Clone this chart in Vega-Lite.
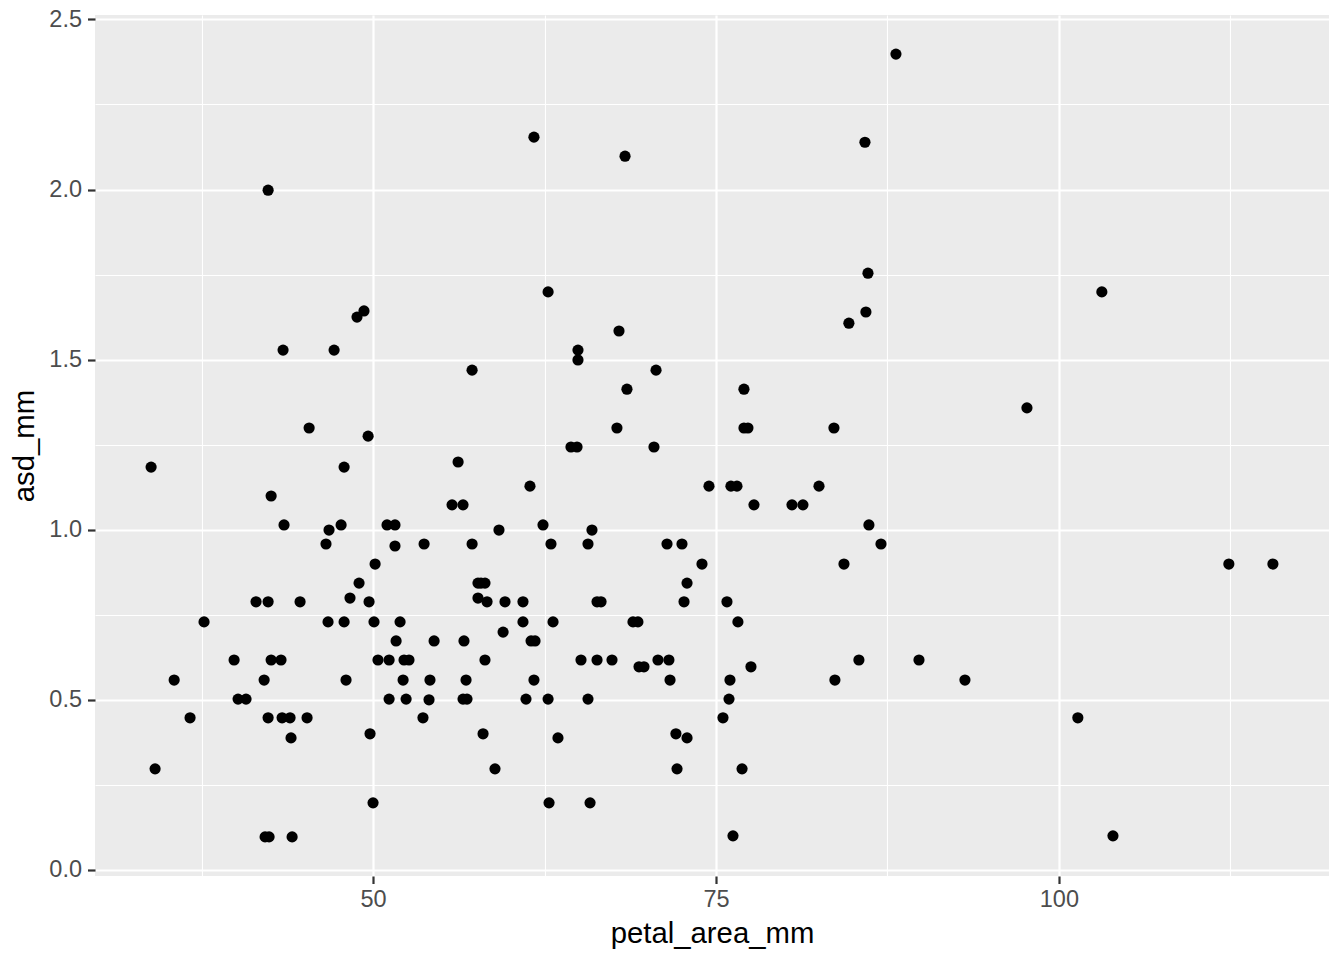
{
  "$schema": "https://vega.github.io/schema/vega-lite/v6.json",
  "autosize": "none",
  "padding": {"left": 95, "top": 15, "right": 15, "bottom": 84},
  "width": 1234,
  "height": 861,
  "background": "white",
  "view": {"fill": "#EBEBEB", "stroke": null},
  "config": {"font": "Liberation Sans"},
  "data": {"values": [
    {"petal_area_mm": 88.12, "asd_mm": 2.398},
    {"petal_area_mm": 61.73, "asd_mm": 2.154},
    {"petal_area_mm": 68.37, "asd_mm": 2.098},
    {"petal_area_mm": 85.86, "asd_mm": 2.139},
    {"petal_area_mm": 42.35, "asd_mm": 1.998},
    {"petal_area_mm": 86.08, "asd_mm": 1.754},
    {"petal_area_mm": 103.13, "asd_mm": 1.699},
    {"petal_area_mm": 62.76, "asd_mm": 1.699},
    {"petal_area_mm": 48.83, "asd_mm": 1.625},
    {"petal_area_mm": 49.34, "asd_mm": 1.643},
    {"petal_area_mm": 84.69, "asd_mm": 1.607},
    {"petal_area_mm": 85.93, "asd_mm": 1.64},
    {"petal_area_mm": 67.93, "asd_mm": 1.584},
    {"petal_area_mm": 43.44, "asd_mm": 1.528},
    {"petal_area_mm": 47.16, "asd_mm": 1.528},
    {"petal_area_mm": 64.94, "asd_mm": 1.528},
    {"petal_area_mm": 64.94, "asd_mm": 1.499},
    {"petal_area_mm": 57.22, "asd_mm": 1.469},
    {"petal_area_mm": 70.63, "asd_mm": 1.469},
    {"petal_area_mm": 68.51, "asd_mm": 1.413},
    {"petal_area_mm": 77.04, "asd_mm": 1.413},
    {"petal_area_mm": 97.67, "asd_mm": 1.358},
    {"petal_area_mm": 45.34, "asd_mm": 1.299},
    {"petal_area_mm": 67.78, "asd_mm": 1.299},
    {"petal_area_mm": 77.04, "asd_mm": 1.299},
    {"petal_area_mm": 77.33, "asd_mm": 1.299},
    {"petal_area_mm": 83.6, "asd_mm": 1.299},
    {"petal_area_mm": 49.64, "asd_mm": 1.275},
    {"petal_area_mm": 33.82, "asd_mm": 1.184},
    {"petal_area_mm": 47.89, "asd_mm": 1.184},
    {"petal_area_mm": 56.2, "asd_mm": 1.199},
    {"petal_area_mm": 64.43, "asd_mm": 1.243},
    {"petal_area_mm": 64.87, "asd_mm": 1.243},
    {"petal_area_mm": 70.48, "asd_mm": 1.243},
    {"petal_area_mm": 61.44, "asd_mm": 1.128},
    {"petal_area_mm": 74.49, "asd_mm": 1.128},
    {"petal_area_mm": 76.09, "asd_mm": 1.128},
    {"petal_area_mm": 76.53, "asd_mm": 1.128},
    {"petal_area_mm": 82.51, "asd_mm": 1.128},
    {"petal_area_mm": 42.57, "asd_mm": 1.099},
    {"petal_area_mm": 55.76, "asd_mm": 1.073},
    {"petal_area_mm": 56.56, "asd_mm": 1.073},
    {"petal_area_mm": 77.77, "asd_mm": 1.073},
    {"petal_area_mm": 80.54, "asd_mm": 1.073},
    {"petal_area_mm": 81.34, "asd_mm": 1.073},
    {"petal_area_mm": 46.79, "asd_mm": 0.999},
    {"petal_area_mm": 47.67, "asd_mm": 1.014},
    {"petal_area_mm": 43.51, "asd_mm": 1.014},
    {"petal_area_mm": 51.02, "asd_mm": 1.014},
    {"petal_area_mm": 51.6, "asd_mm": 1.014},
    {"petal_area_mm": 62.39, "asd_mm": 1.014},
    {"petal_area_mm": 59.18, "asd_mm": 0.999},
    {"petal_area_mm": 65.96, "asd_mm": 0.999},
    {"petal_area_mm": 86.15, "asd_mm": 1.014},
    {"petal_area_mm": 46.57, "asd_mm": 0.958},
    {"petal_area_mm": 51.6, "asd_mm": 0.952},
    {"petal_area_mm": 53.72, "asd_mm": 0.958},
    {"petal_area_mm": 57.22, "asd_mm": 0.958},
    {"petal_area_mm": 62.97, "asd_mm": 0.958},
    {"petal_area_mm": 65.67, "asd_mm": 0.958},
    {"petal_area_mm": 71.43, "asd_mm": 0.958},
    {"petal_area_mm": 72.52, "asd_mm": 0.958},
    {"petal_area_mm": 87.03, "asd_mm": 0.958},
    {"petal_area_mm": 50.15, "asd_mm": 0.899},
    {"petal_area_mm": 73.98, "asd_mm": 0.899},
    {"petal_area_mm": 84.33, "asd_mm": 0.899},
    {"petal_area_mm": 112.39, "asd_mm": 0.899},
    {"petal_area_mm": 115.6, "asd_mm": 0.899},
    {"petal_area_mm": 48.98, "asd_mm": 0.843},
    {"petal_area_mm": 57.65, "asd_mm": 0.843},
    {"petal_area_mm": 57.87, "asd_mm": 0.843},
    {"petal_area_mm": 58.16, "asd_mm": 0.843},
    {"petal_area_mm": 72.89, "asd_mm": 0.843},
    {"petal_area_mm": 48.32, "asd_mm": 0.799},
    {"petal_area_mm": 57.65, "asd_mm": 0.799},
    {"petal_area_mm": 41.47, "asd_mm": 0.788},
    {"petal_area_mm": 42.35, "asd_mm": 0.788},
    {"petal_area_mm": 44.68, "asd_mm": 0.788},
    {"petal_area_mm": 49.71, "asd_mm": 0.788},
    {"petal_area_mm": 58.31, "asd_mm": 0.788},
    {"petal_area_mm": 59.62, "asd_mm": 0.788},
    {"petal_area_mm": 60.93, "asd_mm": 0.788},
    {"petal_area_mm": 66.33, "asd_mm": 0.788},
    {"petal_area_mm": 66.62, "asd_mm": 0.788},
    {"petal_area_mm": 72.67, "asd_mm": 0.788},
    {"petal_area_mm": 75.8, "asd_mm": 0.788},
    {"petal_area_mm": 37.68, "asd_mm": 0.729},
    {"petal_area_mm": 46.72, "asd_mm": 0.729},
    {"petal_area_mm": 47.89, "asd_mm": 0.729},
    {"petal_area_mm": 50.07, "asd_mm": 0.729},
    {"petal_area_mm": 51.97, "asd_mm": 0.729},
    {"petal_area_mm": 60.93, "asd_mm": 0.729},
    {"petal_area_mm": 63.12, "asd_mm": 0.729},
    {"petal_area_mm": 68.95, "asd_mm": 0.729},
    {"petal_area_mm": 69.31, "asd_mm": 0.729},
    {"petal_area_mm": 76.6, "asd_mm": 0.729},
    {"petal_area_mm": 59.48, "asd_mm": 0.699},
    {"petal_area_mm": 51.68, "asd_mm": 0.673},
    {"petal_area_mm": 54.45, "asd_mm": 0.673},
    {"petal_area_mm": 56.63, "asd_mm": 0.673},
    {"petal_area_mm": 61.52, "asd_mm": 0.673},
    {"petal_area_mm": 61.81, "asd_mm": 0.673},
    {"petal_area_mm": 39.87, "asd_mm": 0.617},
    {"petal_area_mm": 42.57, "asd_mm": 0.617},
    {"petal_area_mm": 43.29, "asd_mm": 0.617},
    {"petal_area_mm": 50.36, "asd_mm": 0.617},
    {"petal_area_mm": 51.17, "asd_mm": 0.617},
    {"petal_area_mm": 52.26, "asd_mm": 0.617},
    {"petal_area_mm": 52.62, "asd_mm": 0.617},
    {"petal_area_mm": 58.16, "asd_mm": 0.617},
    {"petal_area_mm": 65.16, "asd_mm": 0.617},
    {"petal_area_mm": 66.33, "asd_mm": 0.617},
    {"petal_area_mm": 67.42, "asd_mm": 0.617},
    {"petal_area_mm": 70.77, "asd_mm": 0.617},
    {"petal_area_mm": 71.57, "asd_mm": 0.617},
    {"petal_area_mm": 85.42, "asd_mm": 0.617},
    {"petal_area_mm": 89.8, "asd_mm": 0.617},
    {"petal_area_mm": 69.39, "asd_mm": 0.597},
    {"petal_area_mm": 69.75, "asd_mm": 0.597},
    {"petal_area_mm": 77.55, "asd_mm": 0.597},
    {"petal_area_mm": 35.5, "asd_mm": 0.558},
    {"petal_area_mm": 42.06, "asd_mm": 0.558},
    {"petal_area_mm": 48.03, "asd_mm": 0.558},
    {"petal_area_mm": 52.19, "asd_mm": 0.558},
    {"petal_area_mm": 54.15, "asd_mm": 0.558},
    {"petal_area_mm": 56.78, "asd_mm": 0.558},
    {"petal_area_mm": 61.73, "asd_mm": 0.558},
    {"petal_area_mm": 71.65, "asd_mm": 0.558},
    {"petal_area_mm": 76.02, "asd_mm": 0.558},
    {"petal_area_mm": 83.67, "asd_mm": 0.558},
    {"petal_area_mm": 93.15, "asd_mm": 0.558},
    {"petal_area_mm": 40.16, "asd_mm": 0.502},
    {"petal_area_mm": 40.74, "asd_mm": 0.502},
    {"petal_area_mm": 51.17, "asd_mm": 0.502},
    {"petal_area_mm": 52.41, "asd_mm": 0.502},
    {"petal_area_mm": 54.08, "asd_mm": 0.5},
    {"petal_area_mm": 56.56, "asd_mm": 0.502},
    {"petal_area_mm": 56.85, "asd_mm": 0.502},
    {"petal_area_mm": 61.15, "asd_mm": 0.502},
    {"petal_area_mm": 62.76, "asd_mm": 0.502},
    {"petal_area_mm": 65.67, "asd_mm": 0.502},
    {"petal_area_mm": 75.95, "asd_mm": 0.502},
    {"petal_area_mm": 36.66, "asd_mm": 0.447},
    {"petal_area_mm": 42.35, "asd_mm": 0.447},
    {"petal_area_mm": 43.37, "asd_mm": 0.447},
    {"petal_area_mm": 43.95, "asd_mm": 0.447},
    {"petal_area_mm": 45.19, "asd_mm": 0.447},
    {"petal_area_mm": 53.64, "asd_mm": 0.447},
    {"petal_area_mm": 75.51, "asd_mm": 0.447},
    {"petal_area_mm": 101.38, "asd_mm": 0.447},
    {"petal_area_mm": 44.02, "asd_mm": 0.388},
    {"petal_area_mm": 49.78, "asd_mm": 0.4},
    {"petal_area_mm": 58.02, "asd_mm": 0.4},
    {"petal_area_mm": 63.48, "asd_mm": 0.388},
    {"petal_area_mm": 72.08, "asd_mm": 0.4},
    {"petal_area_mm": 72.89, "asd_mm": 0.388},
    {"petal_area_mm": 34.11, "asd_mm": 0.297},
    {"petal_area_mm": 58.89, "asd_mm": 0.297},
    {"petal_area_mm": 72.16, "asd_mm": 0.297},
    {"petal_area_mm": 76.9, "asd_mm": 0.297},
    {"petal_area_mm": 50.0, "asd_mm": 0.197},
    {"petal_area_mm": 62.83, "asd_mm": 0.197},
    {"petal_area_mm": 65.82, "asd_mm": 0.197},
    {"petal_area_mm": 42.13, "asd_mm": 0.097},
    {"petal_area_mm": 42.42, "asd_mm": 0.097},
    {"petal_area_mm": 44.1, "asd_mm": 0.097},
    {"petal_area_mm": 76.24, "asd_mm": 0.1},
    {"petal_area_mm": 103.94, "asd_mm": 0.1}
  ]},
  "mark": {"type": "point", "filled": true, "color": "black", "opacity": 1, "size": 125, "strokeWidth": 0},
  "encoding": {
    "x": {
      "field": "petal_area_mm",
      "type": "quantitative",
      "scale": {"domain": [29.73, 119.69], "nice": false, "zero": false},
      "axis": {
        "values": [37.5, 50, 62.5, 75, 87.5, 100, 112.5],
        "labelExpr": "datum.value % 25 === 0 ? format(datum.value, 'd') : ''",
        "domain": false,
        "grid": true,
        "gridColor": "white",
        "gridOpacity": 1,
        "gridWidth": {"condition": {"test": "datum.value % 25 === 0", "value": 2.2}, "value": 1.1},
        "tickColor": "#333333",
        "tickWidth": 2.2,
        "tickSize": 7.5,
        "tickOpacity": {"condition": {"test": "datum.value % 25 === 0", "value": 1}, "value": 0},
        "labelColor": "#4D4D4D",
        "labelFontSize": 23.5,
        "labelPadding": 4,
        "labelFont": "Liberation Sans",
        "title": "petal_area_mm",
        "titleFont": "Liberation Sans",
        "titleFontSize": 29.3,
        "titleFontWeight": "normal",
        "titleColor": "black",
        "titlePadding": 8
      }
    },
    "y": {
      "field": "asd_mm",
      "type": "quantitative",
      "scale": {"domain": [-0.018, 2.513], "nice": false, "zero": false},
      "axis": {
        "values": [0, 0.25, 0.5, 0.75, 1, 1.25, 1.5, 1.75, 2, 2.25, 2.5],
        "labelExpr": "(datum.value * 2) % 1 === 0 ? format(datum.value, '.1f') : ''",
        "domain": false,
        "grid": true,
        "gridColor": "white",
        "gridOpacity": 1,
        "gridWidth": {"condition": {"test": "(datum.value * 2) % 1 === 0", "value": 2.2}, "value": 1.1},
        "tickColor": "#333333",
        "tickWidth": 2.2,
        "tickSize": 7.5,
        "tickOpacity": {"condition": {"test": "(datum.value * 2) % 1 === 0", "value": 1}, "value": 0},
        "labelColor": "#4D4D4D",
        "labelFontSize": 23.5,
        "labelPadding": 6,
        "labelFont": "Liberation Sans",
        "title": "asd_mm",
        "titleFont": "Liberation Sans",
        "titleFontSize": 29.3,
        "titleFontWeight": "normal",
        "titleColor": "black",
        "titlePadding": 9
      }
    }
  }
}
